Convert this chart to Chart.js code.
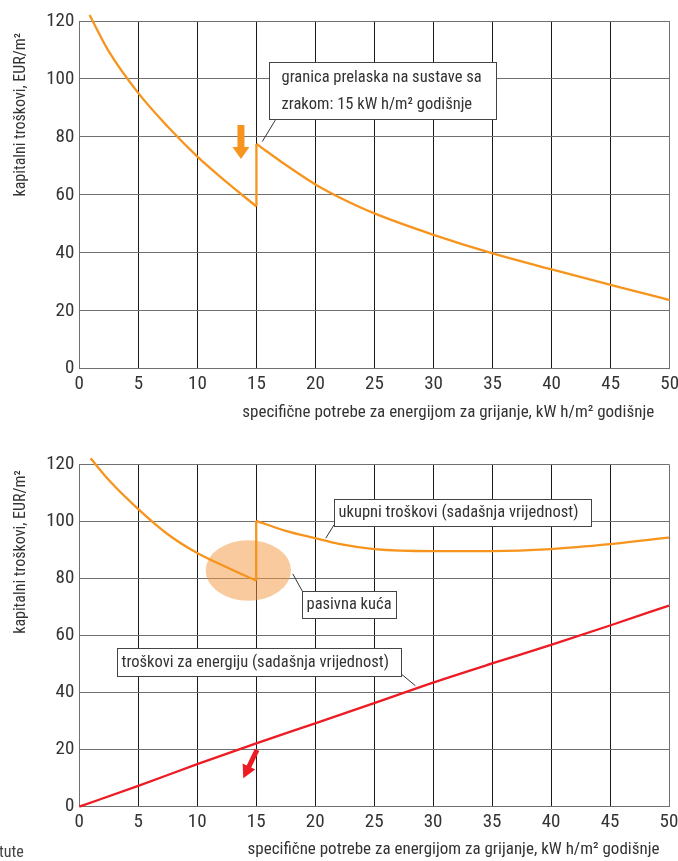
<!DOCTYPE html>
<html>
<head>
<meta charset="utf-8">
<script src="https://cdn.jsdelivr.net/npm/chart.js@4.4.1/dist/chart.umd.min.js"></script>
<style>
  body { margin: 0; background: #fff; width: 678px; height: 861px; position: relative; overflow: hidden; }
  canvas { position: absolute; left: 0; }
  #top { top: 0; }
  #bottom { top: 430px; }
  #note { position: absolute; left: -1px; top: 842px; font: 16px "Roboto Condensed", sans-serif; color: #444; }
</style>
</head>
<body>
<canvas id="top" width="678" height="430"></canvas>
<canvas id="bottom" width="678" height="431"></canvas>
<div id="note">tute</div>
<script>
"use strict";

var FONT = '"Roboto Condensed", sans-serif';
var ORANGE = "#f7941d";
var RED = "#ed1c24";
var TEXT = "#333333";

var xTicks = [0, 5, 10, 15, 20, 25, 30, 35, 40, 45, 50];
var yTicks = [0, 20, 40, 60, 80, 100, 120];
var xTitle = "specifične potrebe za energijom za grijanje, kW h/m² godišnje";
var yTitle = "kapitalni troškovi, EUR/m²";

// top chart - capital costs, below and above the 15 kWh/m2 limit
var capLowX = [0.87, 2.5, 5, 7.5, 10, 12.5, 15];
var capLowY = [122.1, 109.5, 95.1, 83.5, 73.2, 64.3, 56];
var capHighX = [15, 17.5, 20, 22, 25, 30, 35, 40, 45, 50, 50.7];
var capHighY = [77.6, 70.3, 63.6, 59.2, 53.6, 46.2, 39.8, 34.3, 28.9, 23.7, 22.9];

// bottom chart - total costs (present value) and energy costs
var totLowX = [0.96, 2.5, 5, 7.5, 10, 12.5, 15];
var totLowY = [122.1, 114.5, 104.3, 95.5, 88.9, 83.9, 79.2];
var totHighX = [15, 17.5, 20, 22, 25, 30, 35, 40, 45, 50, 50.3];
var totHighY = [100.2, 96.7, 94.1, 92.1, 90.3, 89.6, 89.6, 90.3, 92, 94.3, 94.4];
var energyX = [0, 5, 10, 15, 20, 25, 30, 35, 40, 45, 50];
var energyY = [0, 7.3, 14.9, 22.2, 29.2, 36.3, 43.5, 50.2, 56.7, 63.5, 70.5];

function pts(xs, ys) {
  return xs.map(function (x, i) { return { x: x, y: ys[i] }; });
}

function line(xs, ys, color) {
  return {
    data: pts(xs, ys),
    showLine: true,
    borderColor: color,
    borderWidth: 2.3,
    pointRadius: 0,
    cubicInterpolationMode: "monotone",
    clip: false
  };
}

function drawArrow(ctx, x0, y0, x1, y1, shaftW, headW, headL, color) {
  var dx = x1 - x0, dy = y1 - y0;
  var len = Math.sqrt(dx * dx + dy * dy);
  var ux = dx / len, uy = dy / len, nx = -uy, ny = ux;
  var bx = x1 - ux * headL, by = y1 - uy * headL;
  ctx.save();
  ctx.fillStyle = color;
  ctx.beginPath();
  ctx.moveTo(x0 + nx * shaftW / 2, y0 + ny * shaftW / 2);
  ctx.lineTo(bx + nx * shaftW / 2, by + ny * shaftW / 2);
  ctx.lineTo(bx + nx * headW / 2, by + ny * headW / 2);
  ctx.lineTo(x1, y1);
  ctx.lineTo(bx - nx * headW / 2, by - ny * headW / 2);
  ctx.lineTo(bx - nx * shaftW / 2, by - ny * shaftW / 2);
  ctx.lineTo(x0 - nx * shaftW / 2, y0 - ny * shaftW / 2);
  ctx.closePath();
  ctx.fill();
  ctx.restore();
}

var annotPlugin = {
  id: "annot",
  beforeDatasetsDraw: function (chart, args, opts) {
    var ctx = chart.ctx, sx = chart.scales.x, sy = chart.scales.y;
    (opts.ellipses || []).forEach(function (e) {
      ctx.save();
      ctx.fillStyle = "rgba(244, 150, 60, 0.5)";
      ctx.beginPath();
      ctx.ellipse(sx.getPixelForValue(e.x), sy.getPixelForValue(e.y), e.rx, e.ry, 0, 0, Math.PI * 2);
      ctx.fill();
      ctx.restore();
    });
  },
  afterDatasetsDraw: function (chart, args, opts) {
    var ctx = chart.ctx, sx = chart.scales.x, sy = chart.scales.y, area = chart.chartArea;
    (opts.arrows || []).forEach(function (a) {
      drawArrow(ctx, sx.getPixelForValue(a.from[0]), sy.getPixelForValue(a.from[1]),
        sx.getPixelForValue(a.to[0]), sy.getPixelForValue(a.to[1]), a.shaft, a.head, a.headLen, a.color);
    });
    (opts.boxes || []).forEach(function (b) {
      var l = Math.round(sx.getPixelForValue(b.x0)) + 0.5, t = Math.round(sy.getPixelForValue(b.y0)) + 0.5;
      var r = Math.round(sx.getPixelForValue(b.x1)) + 0.5, btm = Math.round(sy.getPixelForValue(b.y1)) + 0.5;
      ctx.save();
      ctx.strokeStyle = "#333";
      ctx.lineWidth = 1;
      ctx.beginPath();
      ctx.moveTo(sx.getPixelForValue(b.leader[0]), sy.getPixelForValue(b.leader[1]));
      ctx.lineTo(sx.getPixelForValue(b.leader[2]), sy.getPixelForValue(b.leader[3]));
      ctx.stroke();
      ctx.fillStyle = "#fff";
      ctx.fillRect(l, t, r - l, btm - t);
      ctx.strokeStyle = "#444";
      ctx.strokeRect(l, t, r - l, btm - t);
      ctx.fillStyle = TEXT;
      ctx.font = "16.5px " + FONT;
      ctx.textBaseline = "middle";
      ctx.textAlign = "left";
      var h = btm - t, n = b.lines.length;
      b.lines.forEach(function (s, i) {
        var y = n === 1 ? t + h / 2 : t + 15.5 + i * 27;
        ctx.fillText(s, l + (b.padX || 5), y);
      });
      ctx.restore();
    });

    // axis titles, anchored to the plot area the way the original sets them
    ctx.save();
    ctx.fillStyle = TEXT;
    ctx.font = "17px " + FONT;
    ctx.textAlign = "right";
    ctx.textBaseline = "middle";
    ctx.fillText(xTitle, area.right - opts.xTitleInset, area.bottom + opts.xTitleDrop);
    ctx.translate(20.5, area.top + opts.yTitleInset);
    ctx.rotate(-Math.PI / 2);
    ctx.font = "16px " + FONT;
    ctx.fillText(yTitle, 0, 0);
    ctx.restore();
  }
};

function makeChart(id, datasets, padding, xHeight, annot) {
  return new Chart(document.getElementById(id), {
    type: "scatter",
    data: { datasets: datasets },
    options: {
      responsive: false,
      animation: false,
      layout: { padding: padding },
      plugins: {
        legend: { display: false },
        tooltip: { enabled: false },
        annot: annot
      },
      scales: {
        x: {
          type: "linear",
          min: 0,
          max: 50,
          afterBuildTicks: function (s) { s.ticks = xTicks.map(function (v) { return { value: v }; }); },
          afterFit: function (s) { s.height = xHeight; s.paddingLeft = 0; s.paddingRight = 0; },
          grid: {
            drawTicks: false,
            color: function (c) { return (c.tick.value === 0 || c.tick.value === 50) ? "#707070" : "#1a1a1a"; },
            lineWidth: 1
          },
          border: { color: "#707070", width: 1 },
          ticks: { color: TEXT, font: { family: FONT, size: 19 }, padding: 4 }
        },
        y: {
          min: 0,
          max: 120,
          afterBuildTicks: function (s) { s.ticks = yTicks.map(function (v) { return { value: v }; }); },
          afterFit: function (s) { s.width = 79.3; },
          grid: { drawTicks: false, color: "#707070", lineWidth: 1 },
          border: { color: "#707070", width: 1 },
          ticks: { color: TEXT, font: { family: FONT, size: 19 }, padding: 5 }
        }
      }
    },
    plugins: [annotPlugin]
  });
}

makeChart("top", [
  line(capLowX, capLowY, ORANGE),
  line([15, 15], [capLowY[capLowY.length - 1], capHighY[0]], ORANGE),
  line(capHighX, capHighY, ORANGE)
], { top: 21, right: 8.3, bottom: 0, left: 0 }, 61.3, {
  xTitleInset: 15.5, xTitleDrop: 44, yTitleInset: 12,
  arrows: [
    { from: [13.69, 84.1], to: [13.69, 72.4], shaft: 7, head: 17, headLen: 12, color: ORANGE }
  ],
  boxes: [
    { x0: 16.09, y0: 106.0, x1: 35.3, y1: 86.1, padX: 12,
      lines: ["granica prelaska na sustave sa", "zrakom: 15 kW h/m² godišnje"],
      leader: [16.6, 85.8, 15.5, 78.4] }
  ]
});

makeChart("bottom", [
  line(energyX, energyY, RED),
  line(totLowX, totLowY, ORANGE),
  line([15, 15], [totLowY[totLowY.length - 1], totHighY[0]], ORANGE),
  line(totHighX, totHighY, ORANGE)
], { top: 34.3, right: 9, bottom: 0, left: 0 }, 54.3, {
  xTitleInset: 9.5, xTitleDrop: 43.5, yTitleInset: 6,
  ellipses: [{ x: 14.33, y: 82.8, rx: 42.7, ry: 30.3 }],
  arrows: [
    { from: [15.07, 19.9], to: [13.9, 10.0], shaft: 5, head: 14, headLen: 13, color: RED }
  ],
  boxes: [
    { x0: 21.63, y0: 107.9, x1: 43.4, y1: 98.4, padX: 4,
      lines: ["ukupni troškovi (sadašnja vrijednost)"], leader: [21.6, 98.8, 20.9, 94.1] },
    { x0: 18.86, y0: 75.7, x1: 26.83, y1: 66.0, padX: 4,
      lines: ["pasivna kuća"], leader: [18.9, 75.6, 18.1, 81.6] },
    { x0: 3.22, y0: 55.7, x1: 27.3, y1: 45.9, padX: 4,
      lines: ["troškovi za energiju (sadašnja vrijednost)"], leader: [27.3, 46.5, 28.5, 42.4] }
  ]
});
</script>
</body>
</html>
